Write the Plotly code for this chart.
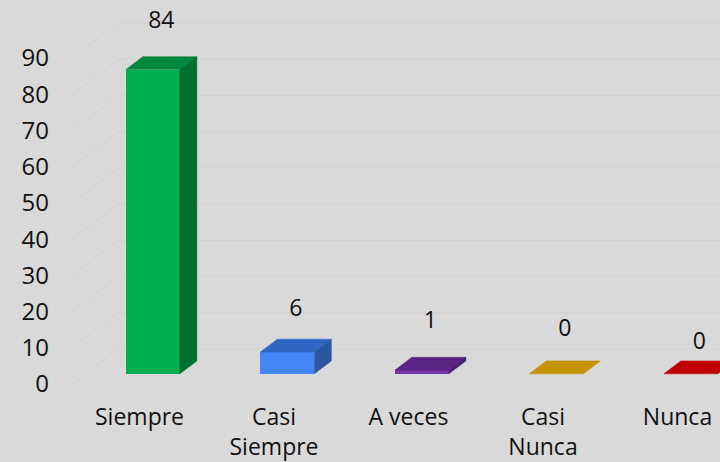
import plotly.graph_objects as go

# ---- data ----
categories = ["Siempre", "Casi<br>Siempre", "A veces", "Casi<br>Nunca", "Nunca"]
values = [84, 6, 1, 0, 0]
y_ticks = [0, 10, 20, 30, 40, 50, 60, 70, 80, 90]

# ---- styles ----
front_colors = ["#00B050", "#4287F5", "#7535A8", "#FFC000", "#FF0000"]
top_colors = ["#00873B", "#3165C4", "#5A2585", "#C49400", "#C00000"]
side_colors = ["#006F2F", "#2B579E", "#4A1E6E", "#9E7700", "#9A0000"]
label_lift_px = [41, 35, 42, 37, 24]   # data-label distance above bar top (px)
BG = "#D9D9D9"
GRID = "#D1D1D1"
FONT = "Open Sans"

# ---- geometry (pixel scales -> data units) ----
PX_X = 134.5   # px per category
PX_Y = 3.622   # px per value unit
L_MARGIN, PLOT_W = 60, 660
B_MARGIN, PLOT_H = 62, 400
X0 = -(139.5 - L_MARGIN) / PX_X
X1 = X0 + PLOT_W / PX_X
Y0 = -16 / PX_Y
Y1 = Y0 + PLOT_H / PX_Y
DX = 46 / PX_X          # wall depth (x)
DY = 35 / PX_Y          # wall depth (y)
F0, F1 = 0.29, 0.66     # bar front/back depth fractions
W = 54 / PX_X           # bar width
ddx, ddy = DX * (F1 - F0), DY * (F1 - F0)

fig = go.Figure()

# gridlines: side wall diagonal + back wall horizontal (below the data)
for t in y_ticks:
    fig.add_shape(type="path", xref="x", yref="y", layer="below",
                  path=f"M {-0.5} {t} L {-0.5 + DX} {t + DY} L {X1} {t + DY}",
                  line=dict(color=GRID, width=1))

xc = [i + DX * F0 for i in range(len(values))]
base = DY * F0

# front faces
fig.add_trace(go.Bar(
    x=xc, y=values, base=[base] * len(values), width=W,
    marker=dict(color=front_colors, line=dict(width=0)),
    hoverinfo="skip", showlegend=False))

# top and side faces
for i, v in enumerate(values):
    xl, xr = xc[i] - W / 2, xc[i] + W / 2
    yb, yt = base, base + v
    fig.add_trace(go.Scatter(
        x=[xl, xr, xr + ddx, xl + ddx, xl], y=[yt, yt, yt + ddy, yt + ddy, yt],
        fill="toself", fillcolor=top_colors[i], mode="lines",
        line=dict(width=0.5, color=top_colors[i]), hoverinfo="skip", showlegend=False))
    if v > 0:
        fig.add_trace(go.Scatter(
            x=[xr, xr + ddx, xr + ddx, xr, xr], y=[yb, yb + ddy, yt + ddy, yt, yb],
            fill="toself", fillcolor=side_colors[i], mode="lines",
            line=dict(width=0.5, color=side_colors[i]), hoverinfo="skip", showlegend=False))

# value labels
fig.add_trace(go.Scatter(
    x=[c + ddx / 2 for c in xc],
    y=[v + base + ddy / 2 + lift / PX_Y for v, lift in zip(values, label_lift_px)],
    text=[str(v) for v in values], mode="text",
    textfont=dict(family=FONT, size=23, color="#111111"),
    hoverinfo="skip", showlegend=False, cliponaxis=False))

fig.update_layout(
    width=720, height=462,
    margin=dict(l=L_MARGIN, r=0, t=0, b=B_MARGIN),
    paper_bgcolor=BG, plot_bgcolor=BG,
    font=dict(family=FONT, color="#111111"),
    xaxis=dict(range=[X0, X1], tickvals=list(range(len(categories))), ticktext=categories,
               showgrid=False, zeroline=False, showline=False, ticks="",
               tickfont=dict(size=23), ticklabelstandoff=1),
    yaxis=dict(range=[Y0, Y1], tickvals=y_ticks, showgrid=False, zeroline=False,
               showline=False, ticks="", tickfont=dict(size=24), ticklabelstandoff=10),
    bargap=0,
)

fig.write_html("out.html", config={"displayModeBar": False},
               post_script="document.body.style.margin='0';document.body.style.background='#D9D9D9';")
